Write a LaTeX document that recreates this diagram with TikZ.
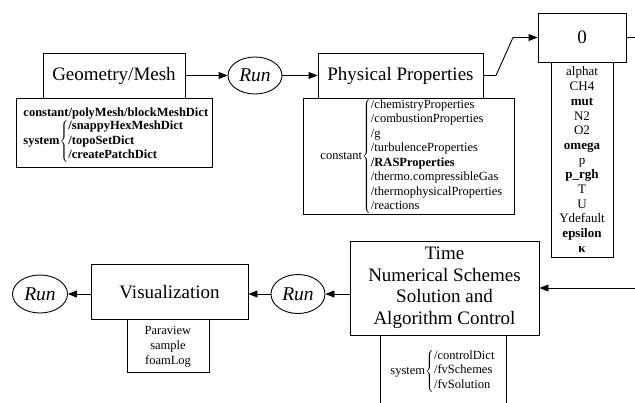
\documentclass[tikz,border=0pt]{standalone}
\usepackage{fontspec}
\setmainfont{Liberation Serif}
\usetikzlibrary{arrows.meta,shapes.geometric}
\begin{document}
\begin{tikzpicture}[x=1pt,y=-1pt,line width=0.9pt,
  box/.style={draw,rectangle,inner sep=0pt,align=center,font=\fontsize{19}{21.5}\selectfont},
  frame/.style={draw,rectangle,inner sep=0pt},
  small/.style={inner sep=0pt,align=center,font=\fontsize{12.5}{14.5}\selectfont},
  runell/.style={draw,ellipse,inner sep=0pt,minimum width=54pt,minimum height=37pt,font=\fontsize{19.5}{21}\selectfont\itshape},
  arr/.style={-{Triangle[length=9pt,width=7pt]}}]
\useasboundingbox (0,0) rectangle (635,402);
% top row
\node[box,minimum width=142pt,minimum height=45pt] (geo) at (114,75.5) {Geometry/Mesh};
\node[frame,minimum width=196pt,minimum height=69pt] (geosub) at (114,132.5) {};
\node[small,anchor=north west,font=\fontsize{12.5}{14.3}\selectfont\bfseries] (geotxt) at (23,106)
 {\begin{tabular}{@{}l@{}}constant/polyMesh/blockMeshDict\\[-1pt]
  system$\left\{\begin{tabular}{@{}l@{}}/snappyHexMeshDict\\ /topoSetDict\\ /createPatchDict\end{tabular}\right.$\end{tabular}};
\node[runell] (run1) at (255,75.5) {Run};
\node[box,minimum width=165pt,minimum height=45pt] (pp) at (400.5,75.5) {Physical Properties};
\node[frame,minimum width=211pt,minimum height=116pt] (ppsub) at (408.5,156) {};
\node[small,anchor=west] (pptxt) at (320,156)
 {constant$\left\{\begin{tabular}{@{}l@{}}/chemistryProperties\\ /combustionProperties\\ /g\\ /turbulenceProperties\\ \textbf{/RASProperties}\\ /thermo.compressibleGas\\ /thermophysicalProperties\\ /reactions\end{tabular}\right.$};
\node[box,minimum width=88pt,minimum height=49pt] (zero) at (582,37.5) {0};
\node[frame,minimum width=62pt,minimum height=195pt] (zerosub) at (582,159.5) {};
\node[small,anchor=north,font=\fontsize{13}{14.7}\selectfont] (zerotxt) at (582,66.5)
 {alphat\\ CH4\\ \textbf{mut}\\ N2\\ O2\\ \textbf{omega}\\ p\\ \textbf{p\_rgh}\\ T\\ U\\ Ydefault\\ \textbf{epsilon}\\ \textbf{κ}};
% bottom row
\node[box,minimum width=189pt,minimum height=94pt,font=\fontsize{19}{21.5}\selectfont] (time) at (444.5,288)
 {Time\\ Numerical Schemes\\ Solution and\\ Algorithm Control};
\node[frame,minimum width=126pt,minimum height=80pt,anchor=north] (timesub) at (443,335) {};
\node[small,anchor=west] (timetxt) at (390,371)
 {system$\left\{\begin{tabular}{@{}l@{}}/controlDict\\ /fvSchemes\\ /fvSolution\end{tabular}\right.$};
\node[runell,minimum height=39pt] (run2) at (298,294) {Run};
\node[box,minimum width=157pt,minimum height=55pt] (vis) at (169.5,292) {Visualization};
\node[frame,minimum width=82pt,minimum height=53pt,anchor=north] (vissub) at (168,319) {};
\node[small,anchor=center,font=\fontsize{12.5}{15}\selectfont] (vistxt) at (168,346.5) {Paraview\\ sample\\ foamLog};
\node[runell,minimum width=55pt,minimum height=38pt] (run3) at (40,294) {Run};
% connectors
\coordinate (k1) at (496,75.5);
\coordinate (k2) at (513,37.5);
\coordinate (out1) at (640,37.5);
\coordinate (in1) at (640,288);
\draw[arr] (geo.east) -- (run1.west);
\draw[arr] (run1.east) -- (pp.west);
\draw[arr] (pp.east) -- (k1) -- (k2) -- (zero.west);
\draw (zero.east) -- (out1);
\draw[arr] (in1) -- (time.east);
\draw[arr] (time.west |- run2.east) -- (run2.east);
\draw[arr] (run2.west) -- (vis.east |- run2.west);
\draw[arr] (vis.west |- run3.east) -- (run3.east);
\end{tikzpicture}
\end{document}
